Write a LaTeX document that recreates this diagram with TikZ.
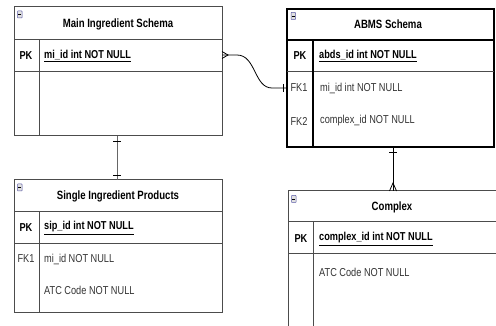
\documentclass[tikz,border=0pt]{standalone}
\usepackage{fontspec}
\setmainfont[FakeStretch=0.8]{Liberation Sans}
\begin{document}
\begin{tikzpicture}[x=1pt,y=-1pt,
  tbl/.style={draw=black!70, line width=1pt},
  tblthick/.style={draw=black, line width=2.4pt},
  ttl/.style={font=\bfseries\fontsize{12}{14}\selectfont, text=black, inner sep=0pt},
  pk/.style={font=\bfseries\fontsize{11.5}{14}\selectfont, text=black, inner sep=0pt},
  fk/.style={font=\fontsize{11.5}{14}\selectfont, text=black!80, inner sep=0pt},
  fld/.style={font=\fontsize{11.5}{14}\selectfont, text=black!80, inner sep=0pt, anchor=west},
  pkfld/.style={font=\bfseries\fontsize{11.5}{14}\selectfont, text=black, inner sep=0pt, anchor=west},
  rel/.style={draw=black, line width=0.8pt},
  relg/.style={draw=black!60, line width=1pt},
  icon/.style={draw=blue!30!gray, fill=black!12, line width=0.5pt, rounded corners=0.5pt}
]
\useasboundingbox (0,0) rectangle (496,326);
\fill[white] (0,0) rectangle (496,326);
\clip (0,0) rectangle (496,326);

% ---------- Main Ingredient Schema ----------
\draw[tbl] (14,7) rectangle (222,136);
\draw[tbl] (14,40) -- (222,40);
\draw[tbl] (14,72) -- (222,72);
\draw[tbl] (39,40) -- (39,136);
\draw[icon] (17.5,11) rectangle (22,18);
\draw[line width=0.7pt] (18.4,14.5) -- (21.1,14.5);
\node[ttl] (misT) at (118,24) {Main Ingredient Schema};
\node[pk] (misPK) at (26,56) {PK};
\node[pkfld] (misF) at (44,56) {\underline{mi\_id int NOT NULL}};

% ---------- ABMS Schema ----------
\draw[tblthick] (287,9) rectangle (494,147);
\draw[tblthick] (287,40) -- (494,40);
\draw[draw=black!70, line width=1pt] (287,72) -- (494,72);
\draw[draw=black, line width=1.6pt] (313,40) -- (313,147);
\draw[icon] (291,12.5) rectangle (295.5,19.5);
\draw[line width=0.7pt] (291.9,16) -- (294.6,16);
\node[ttl] (abT) at (388,24) {ABMS Schema};
\node[pk] (abPK) at (300,56) {PK};
\node[pkfld] (abF) at (319,56) {\underline{abds\_id int NOT NULL}};
\node[fk] (abFK1) at (299,88) {FK1};
\node[fld] (abF1) at (320,88) {mi\_id int NOT NULL};
\node[fk] (abFK2) at (299,121) {FK2};
\node[fld] (abF2) at (320,121) {complex\_id NOT NULL};

% ---------- Single Ingredient Products ----------
\draw[tbl] (14,180) rectangle (222,312);
\draw[tbl] (14,212) -- (222,212);
\draw[tbl] (14,244) -- (222,244);
\draw[tbl] (39,212) -- (39,312);
\draw[icon] (17.5,184) rectangle (22,191);
\draw[line width=0.7pt] (18.4,187.5) -- (21.1,187.5);
\node[ttl] (sipT) at (118,196) {Single Ingredient Products};
\node[pk] (sipPK) at (26,228) {PK};
\node[pkfld] (sipF) at (44,228) {\underline{sip\_id int NOT NULL}};
\node[fk] (sipFK1) at (26,259) {FK1};
\node[fld] (sipF1) at (44,259) {mi\_id NOT NULL};
\node[fld] (sipF2) at (44,290) {ATC Code NOT NULL};

% ---------- Complex ----------
\draw[tbl] (288,191) rectangle (498,340);
\draw[tbl] (288,222) -- (498,222);
\draw[tbl] (288,254) -- (498,254);
\draw[tbl] (313,222) -- (313,340);
\draw[icon] (291.5,195.5) rectangle (296,202.5);
\draw[line width=0.7pt] (292.4,199) -- (295.1,199);
\node[ttl] (cxT) at (392,207) {Complex};
\node[pk] (cxPK) at (301,239) {PK};
\node[pkfld] (cxF) at (319,239) {\underline{complex\_id int NOT NULL}};
\node[fld] (cxF1) at (319,272) {ATC Code NOT NULL};

% ---------- connector end points ----------
\coordinate (misR) at (222,55);
\coordinate (abL) at (287,88);
\coordinate (misB) at (117,136);
\coordinate (sipTop) at (117,180);
\coordinate (abB) at (393,147);
\coordinate (cxTop) at (393,191);

% MIS -> ABMS (many to one)
\draw[rel] (misR) -- (237,55) .. controls (256,55) and (254,88) .. (272,88) -- (abL);
\draw[rel] (222,51.5) -- (228,55) -- (222,58.5);
\draw[rel] (283,84) -- (283,92);

% MIS -> SIP
\draw[relg] (misB) -- (sipTop);
\draw[rel] (113,141) -- (121,141);
\draw[rel] (113,175) -- (121,175);

% ABMS -> Complex
\draw[rel] (abB) -- (cxTop);
\draw[rel] (389,152) -- (397,152);
\draw[rel] (389.5,191) -- (393,183) -- (396.5,191);
\end{tikzpicture}
\end{document}
